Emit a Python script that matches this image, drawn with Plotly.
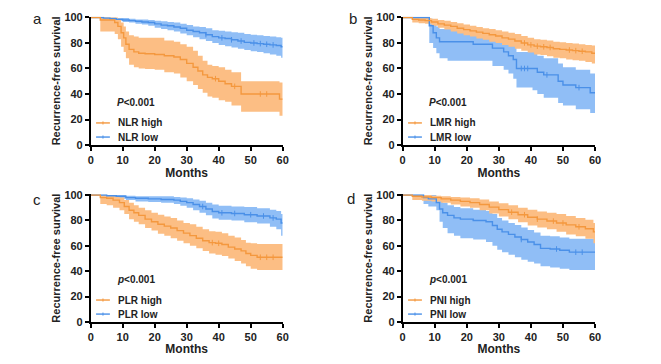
import plotly.graph_objects as go
import numpy as np

# ---------------- Panel a : NLR ----------------
a_high_t = [0, 3, 7.5, 8.5, 9.5, 10.3, 11, 12, 13.5, 15, 17, 20, 23, 26, 28, 30, 32, 33.5, 35, 36.5, 38, 40, 42, 44, 47, 55, 59, 60]
a_high_s = [100, 98, 96, 93, 88, 84, 79, 75, 73, 72, 71.5, 71, 70, 69, 67, 64, 61, 58, 55, 53, 52, 50, 48, 46, 40, 40, 36, 36]
a_high_lo = [100, 89, 87, 83, 77, 73, 68, 63, 61, 60, 59.5, 59, 57, 56, 53, 50, 47, 44, 41, 38, 37, 35, 34, 31, 26, 26, 23, 23]
a_high_hi = [100, 100, 100, 99, 96, 93, 89, 86, 85, 84, 84, 84, 82, 81, 79, 77, 74, 70, 66, 63, 62, 61, 59, 57, 50, 50, 49, 49]
a_high_cens = [39, 45, 53, 55]

a_low_t = [0, 4, 6, 8, 10, 12, 14, 16, 18, 20, 22, 24, 26, 28, 30, 32, 34, 36, 38, 40, 42, 44, 46, 48, 50, 52, 54, 56, 58, 59.5, 60]
a_low_s = [100, 99.5, 99, 98.5, 98, 97.5, 97, 96.5, 96, 95, 94, 93.5, 92.5, 91.5, 90, 89, 88, 86.5, 85, 84, 83.5, 82.5, 81.5, 80.5, 80, 79.5, 79, 78.5, 78, 77, 77]
a_low_lo = [100, 99, 98, 97.5, 96.5, 96, 95, 94.5, 93.5, 92, 91, 90, 89, 87.5, 86, 84.5, 83, 81.5, 80, 78.5, 77.5, 76.5, 75.5, 74.5, 73.5, 73, 72, 71, 70, 68.5, 68.5]
a_low_hi = [100, 100, 100, 99.5, 99.5, 99, 98.5, 98.5, 98, 97.5, 97, 96.5, 96, 95, 94, 93, 92.5, 91.5, 90, 89.5, 89, 88.5, 88, 87, 86.5, 86, 85.5, 85, 84.5, 84, 84]
a_low_cens = [36, 41, 44, 47, 51, 53, 55, 57]

# ---------------- Panel b : LMR ----------------
b_high_t = [0, 3, 5, 7, 9, 11, 13, 15, 17, 19, 21, 23, 25, 27, 29, 31, 33, 35, 37, 39, 41, 43, 45, 47, 49, 51, 53, 55, 57, 59, 60]
b_high_s = [100, 98.5, 98, 97.5, 96.5, 95, 94, 93, 91.5, 90.5, 89.5, 88.5, 87.5, 86.5, 85.5, 84, 83, 81.5, 80, 78.5, 77.5, 77, 76.5, 75.5, 75, 74.5, 74, 73.5, 73, 72, 72]
b_high_lo = [100, 96, 95.5, 95, 93.5, 92, 90.5, 89, 87.5, 86, 85, 83.5, 82.5, 81, 80, 78.5, 77, 75.5, 74, 72.5, 71, 70.5, 69.5, 68.5, 68, 67, 66.5, 66, 65, 64, 64]
b_high_hi = [100, 100, 100, 99.5, 99, 98, 97.5, 96.5, 95.5, 94.5, 93.5, 92.5, 91.5, 91, 90, 89, 88, 87, 85.5, 84, 83, 82.5, 82, 81, 80.5, 80, 79.5, 79, 78.5, 78, 78]
b_high_cens = [38, 40, 42, 44, 46, 52, 54, 56]

b_low_t = [0, 8.3, 9.5, 10.5, 11.5, 14, 22, 26, 28, 30, 31.5, 33, 34.5, 35.5, 40.5, 42, 44, 48.5, 50, 54, 58.5, 60]
b_low_s = [100, 93.5, 88, 84, 81, 81, 79, 79, 76, 76, 73, 70, 67, 60, 60, 57, 55, 50, 47, 45, 41, 41]
b_low_lo = [100, 80, 76, 72, 68, 66, 66, 66, 62, 62, 59, 56, 52, 45, 43, 40, 37, 33, 31, 28, 25, 25]
b_low_hi = [100, 99, 96, 93, 91, 91, 90, 90, 87, 87, 85, 82, 79, 73, 73, 70, 68, 64, 61, 59, 56, 56]
b_low_cens = [37, 38, 39, 45, 55]

# ---------------- Panel c : PLR ----------------
c_high_t = [0, 3, 5, 7, 9, 10.5, 12, 13.5, 15, 17, 19, 21, 23, 25, 27, 29, 31, 33, 35, 37, 39, 41, 43, 45, 47, 48.5, 50, 52, 60]
c_high_s = [100, 98, 97.5, 96, 94, 91, 88, 86, 84, 81, 79, 77, 75.5, 74, 72, 70, 68, 66, 64, 62.5, 62, 61, 59, 57.5, 56, 54, 52.5, 51, 51]
c_high_lo = [100, 93, 92, 90, 88, 85, 81, 79, 77, 74, 72, 69.5, 68, 66, 64, 62, 60, 58, 56, 54, 53, 52, 50, 48, 46, 44, 42, 41, 41]
c_high_hi = [100, 100, 100, 99, 98, 96, 94, 92, 90, 88, 86, 84.5, 83, 82, 80, 78, 77, 75, 73, 71.5, 71, 70, 68, 66.5, 64.5, 62.5, 62, 61.5, 61.5]
c_high_cens = [38, 40, 53, 55, 57]

c_low_t = [0, 5, 8, 11, 14, 18, 22, 26, 28, 30, 32, 34, 36, 38, 40, 44, 48, 52, 56, 58, 59.5, 60]
c_low_s = [100, 99.5, 99, 98, 97.5, 97, 96.5, 96, 95, 94, 92.5, 91, 89, 87, 86, 85.5, 84.5, 83.5, 82, 81, 78, 78]
c_low_lo = [100, 98, 97, 96, 95, 94.5, 94, 93, 91.5, 90, 88, 86, 84, 81.5, 80.5, 80, 78.5, 77.5, 75, 73, 68, 68]
c_low_hi = [100, 100, 100, 99.5, 99, 99, 99, 98.5, 98, 97.5, 96.5, 95.5, 94, 92.5, 91.5, 91, 90.5, 89.5, 88.5, 87.5, 85, 85]
c_low_cens = [35, 41, 45, 50, 54, 57]

# ---------------- Panel d : PNI ----------------
d_high_t = [0, 3, 6, 9, 12, 15, 18, 21, 24, 27, 30, 33, 36, 39, 42, 45, 48, 51, 54, 57, 59.5, 60]
d_high_s = [100, 99, 98.5, 98, 97, 96, 95, 94, 92.5, 90.5, 88.5, 86.5, 84.5, 82.5, 81, 79.5, 78, 76.5, 75, 73.5, 71, 71]
d_high_lo = [100, 96, 95.5, 95, 94, 92.5, 91, 90, 88, 85.5, 83, 81, 78.5, 76, 74.5, 73, 71, 69, 67.5, 65.5, 62, 62]
d_high_hi = [100, 100, 100, 99.5, 99, 98.5, 98, 97.5, 96.5, 95, 93.5, 92, 90, 88.5, 87, 86, 85, 83.5, 82, 80.5, 78, 78]
d_high_cens = [34, 38, 42, 47, 50, 55]

d_low_t = [0, 6.5, 8, 10.5, 11.5, 12.5, 14, 16, 18, 22, 26, 28, 29.5, 31, 33, 35, 37, 39, 41, 43, 46, 49, 52, 60]
d_low_s = [100, 98, 97, 94, 89, 86, 84, 82, 81, 80, 79, 76, 73, 71, 69, 67, 65, 63, 61, 58, 57.5, 56.5, 55, 55]
d_low_lo = [100, 93, 91, 88, 79, 74, 70, 68, 66, 65, 63, 60, 57, 55, 53, 51, 49, 47.5, 46, 44, 43, 42, 41, 41]
d_low_hi = [100, 100, 100, 99, 96, 94, 92, 90.5, 89.5, 88.5, 87.5, 85, 82, 80, 78, 76.5, 74.5, 72.5, 70.5, 68, 67.5, 66.5, 65.5, 65]
d_low_cens = [37, 48, 54, 56]

x_ticks = [0, 10, 20, 30, 40, 50, 60]
y_ticks = [0, 20, 40, 60, 80, 100]

ORANGE_LINE = "rgb(244,152,62)"
ORANGE_FILL = "rgb(252,190,132)"
BLUE_LINE = "rgb(74,144,232)"
BLUE_FILL = "rgb(144,190,246)"
FONT = "Liberation Sans, Arial, sans-serif"

panels = [
    dict(letter="a", ax="", p="<i>P</i>&lt;0.001",
         high=("NLR high", a_high_t, a_high_s, a_high_lo, a_high_hi, a_high_cens),
         low=("NLR low", a_low_t, a_low_s, a_low_lo, a_low_hi, a_low_cens)),
    dict(letter="b", ax="2", p="<i>P</i>&lt;0.001",
         high=("LMR high", b_high_t, b_high_s, b_high_lo, b_high_hi, b_high_cens),
         low=("LMR low", b_low_t, b_low_s, b_low_lo, b_low_hi, b_low_cens)),
    dict(letter="c", ax="3", p="<i>p</i>&lt;0.001",
         high=("PLR high", c_high_t, c_high_s, c_high_lo, c_high_hi, c_high_cens),
         low=("PLR low", c_low_t, c_low_s, c_low_lo, c_low_hi, c_low_cens)),
    dict(letter="d", ax="4", p="<i>p</i>&lt;0.001",
         high=("PNI high", d_high_t, d_high_s, d_high_lo, d_high_hi, d_high_cens),
         low=("PNI low", d_low_t, d_low_s, d_low_lo, d_low_hi, d_low_cens)),
]

# figure is 645x348 (page body adds an 8px margin on each side)
x_domains = {"": [0.1282, 0.4259], "2": [0.6119, 0.9101], "3": [0.1282, 0.4259], "4": [0.6119, 0.9101]}
y_domains = {"": [0.6063, 0.975], "2": [0.6063, 0.975], "3": [0.0977, 0.4647], "4": [0.0977, 0.4647]}
letter_pos = {"": (0.0465, 0.971), "2": (0.535, 0.971), "3": (0.045, 0.451), "4": (0.532, 0.454)}

fig = go.Figure()
shapes = []
annotations = []


def step_value(t, s, x):
    i = np.searchsorted(np.array(t), x, side="right") - 1
    return s[max(i, 0)]


for p in panels:
    ax = p["ax"]
    xr, yr = "x" + ax, "y" + ax
    # Bands (blue first, orange on top)
    for series, fill in ((p["low"], BLUE_FILL), (p["high"], ORANGE_FILL)):
        name, t, s, lo, hi, cens = series
        fig.add_trace(go.Scatter(x=t, y=lo, mode="lines", line=dict(width=0, shape="hv", color=fill),
                                 xaxis=xr, yaxis=yr, showlegend=False, hoverinfo="skip"))
        fig.add_trace(go.Scatter(x=t, y=hi, mode="lines", line=dict(width=0, shape="hv", color=fill),
                                 fill="tonexty", fillcolor=fill,
                                 xaxis=xr, yaxis=yr, showlegend=False, hoverinfo="skip"))
    # Lines
    for series, col in ((p["low"], BLUE_LINE), (p["high"], ORANGE_LINE)):
        name, t, s, lo, hi, cens = series
        fig.add_trace(go.Scatter(x=t, y=s, mode="lines", line=dict(width=1.4, shape="hv", color=col),
                                 xaxis=xr, yaxis=yr, showlegend=False, name=name))
        cy = [step_value(t, s, c) for c in cens]
        fig.add_trace(go.Scatter(x=cens, y=cy, mode="markers",
                                 marker=dict(symbol="line-ns", size=4, line=dict(width=1, color=col)),
                                 xaxis=xr, yaxis=yr, showlegend=False, hoverinfo="skip"))
    # Legend (manual)
    xd, yd = xr + " domain", yr + " domain"
    for (series, col, yy) in ((p["high"], ORANGE_LINE, 0.172), (p["low"], BLUE_LINE, 0.062)):
        shapes.append(dict(type="line", xref=xd, yref=yd, x0=0.028, x1=0.100, y0=yy, y1=yy,
                           line=dict(color=col, width=1.4)))
        shapes.append(dict(type="line", xref=xd, yref=yd, x0=0.064, x1=0.064, y0=yy - 0.012, y1=yy + 0.012,
                           line=dict(color=col, width=1)))
        annotations.append(dict(text="<b>" + series[0] + "</b>", xref=xd, yref=yd, x=0.133, y=yy,
                                xanchor="left", yanchor="middle", showarrow=False,
                                font=dict(family=FONT, size=10, color="#222")))
    annotations.append(dict(text="<b>" + p["p"] + "</b>", xref=xd, yref=yd, x=0.128, y=0.335,
                            xanchor="left", yanchor="middle", showarrow=False,
                            font=dict(family=FONT, size=10, color="#222")))
    lx, ly = letter_pos[ax]
    annotations.append(dict(text=p["letter"], xref="paper", yref="paper", x=lx, y=ly,
                            xanchor="center", yanchor="middle", showarrow=False,
                            font=dict(family=FONT, size=15, color="#222")))

axis_common = dict(showline=True, linecolor="black", linewidth=1.5, ticks="outside", ticklen=4,
                   tickwidth=1.5, tickcolor="black", showgrid=False, zeroline=False, automargin=False,
                   tickfont=dict(family=FONT, size=11, color="#222", weight="bold"))

layout = dict(width=645, height=348, margin=dict(l=0, r=0, t=0, b=0),
              plot_bgcolor="white", paper_bgcolor="white", showlegend=False,
              shapes=shapes, annotations=annotations)
for ax in ["", "2", "3", "4"]:
    layout["xaxis" + ax] = dict(axis_common, domain=x_domains[ax], range=[0, 60], tickvals=x_ticks,
                                anchor="y" + ax,
                                title=dict(text="<b>Months</b>", standoff=2,
                                           font=dict(family=FONT, size=12, color="#222")))
    layout["yaxis" + ax] = dict(axis_common, domain=y_domains[ax], range=[0, 100.6], tickvals=y_ticks,
                                anchor="x" + ax,
                                title=dict(text="<b>Recurrence-free survival</b>", standoff=2,
                                           font=dict(family=FONT, size=11, color="#222")))

fig.update_layout(**layout)
fig.write_html("out.html")
